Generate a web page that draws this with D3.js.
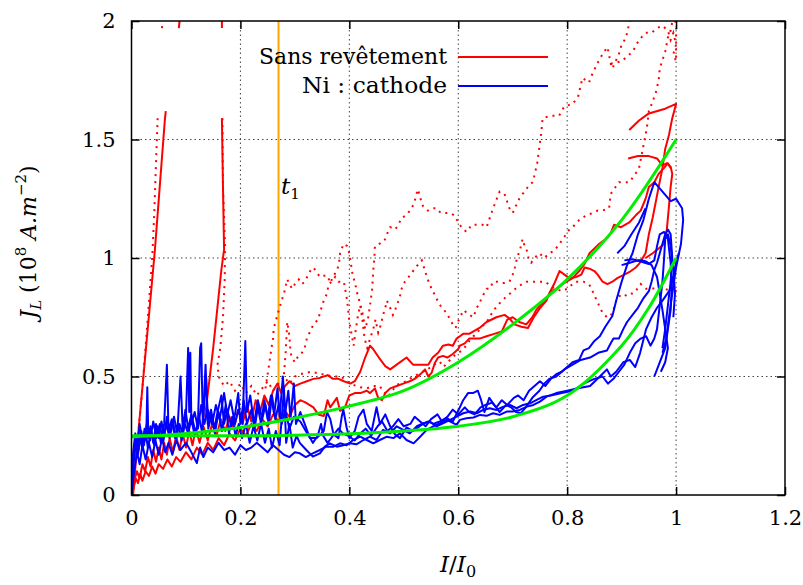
<!DOCTYPE html>
<html><head><meta charset="utf-8">
<script src="https://cdn.jsdelivr.net/npm/d3@7"></script>
<style>
body{margin:0;background:#fff;}
svg{display:block;}
</style></head>
<body>
<svg id="c" width="803" height="585"></svg>
<script>
// ---------- tick labels ----------
const xTicks = [0, 0.2, 0.4, 0.6, 0.8, 1, 1.2];
const yTicks = [0, 0.5, 1, 1.5, 2];
const xGrid = [0.2, 0.4, 0.6, 0.8, 1];
const yGrid = [0.5, 1, 1.5];
const t1 = 0.27;

// ---------- red solid series (Sans revêtement) ----------
const redA = [[0,0],[0.005,0.06],[0.01,0.1],[0.015,0.07],[0.02,0.13],[0.025,0.1],[0.03,0.16],[0.035,0.12],[0.04,0.19],[0.045,0.14],[0.05,0.2],[0.055,0.15],[0.06,0.22],[0.065,0.17],[0.07,0.24],[0.076,0.18],[0.082,0.25],[0.088,0.19],[0.094,0.26],[0.1,0.2],[0.106,0.27],[0.112,0.21],[0.118,0.28],[0.125,0.22],[0.132,0.29],[0.14,0.23],[0.148,0.3],[0.156,0.25],[0.164,0.32],[0.172,0.27],[0.18,0.33],[0.188,0.28],[0.196,0.36],[0.204,0.3],[0.212,0.38],[0.22,0.31],[0.228,0.4],[0.236,0.35],[0.244,0.42],[0.252,0.38],[0.26,0.44],[0.268,0.47],[0.275,0.43],[0.282,0.46],[0.29,0.48],[0.3,0.46],[0.31,0.47],[0.322,0.48],[0.334,0.49],[0.346,0.494],[0.36,0.506],[0.37,0.49],[0.38,0.49],[0.39,0.48],[0.402,0.47],[0.41,0.48],[0.42,0.52],[0.429,0.58],[0.438,0.63],[0.444,0.615],[0.456,0.574],[0.466,0.544],[0.475,0.53],[0.487,0.55],[0.505,0.58],[0.517,0.55],[0.53,0.55],[0.545,0.55],[0.553,0.58],[0.563,0.6],[0.572,0.63],[0.582,0.635],[0.59,0.63],[0.597,0.66],[0.603,0.67],[0.609,0.68],[0.62,0.68],[0.639,0.705],[0.652,0.73],[0.67,0.75],[0.685,0.76],[0.694,0.745],[0.703,0.72],[0.716,0.71],[0.728,0.705],[0.74,0.755],[0.749,0.785],[0.762,0.82],[0.767,0.85],[0.776,0.89],[0.786,0.945],[0.795,0.93],[0.804,0.915],[0.817,0.92],[0.826,0.93],[0.832,0.96],[0.841,0.955],[0.85,0.945],[0.856,0.93],[0.865,0.9],[0.874,0.89],[0.883,0.9],[0.892,0.915],[0.905,0.93],[0.917,0.945],[0.926,0.96],[0.932,0.975],[0.944,1.02],[0.95,1.1],[0.957,1.17],[0.963,1.24],[0.968,1.3],[0.975,1.38],[0.98,1.46],[0.987,1.52],[0.993,1.59],[1.0,1.65],[0.98,1.63],[0.95,1.61],[0.932,1.58],[0.914,1.54]];
const redB = [[0,0],[0.004,0.03],[0.008,0.07],[0.012,0.05],[0.016,0.09],[0.02,0.06],[0.026,0.1],[0.032,0.08],[0.038,0.12],[0.044,0.09],[0.05,0.13],[0.058,0.11],[0.066,0.15],[0.074,0.12],[0.082,0.16],[0.09,0.14],[0.1,0.18],[0.11,0.15],[0.12,0.2],[0.13,0.17],[0.14,0.22],[0.15,0.19],[0.16,0.24],[0.17,0.21],[0.18,0.26],[0.19,0.23],[0.2,0.28],[0.21,0.25],[0.22,0.3],[0.23,0.27],[0.24,0.32],[0.25,0.29],[0.26,0.34],[0.27,0.31],[0.28,0.36],[0.29,0.33],[0.3,0.38],[0.31,0.4],[0.32,0.39],[0.334,0.37],[0.343,0.34],[0.353,0.333],[0.36,0.4],[0.365,0.37],[0.371,0.39],[0.377,0.41],[0.383,0.355],[0.392,0.37],[0.4,0.42],[0.41,0.43],[0.42,0.43],[0.432,0.44],[0.438,0.43],[0.447,0.45],[0.453,0.41],[0.46,0.4],[0.466,0.43],[0.475,0.45],[0.487,0.46],[0.499,0.47],[0.511,0.48],[0.52,0.49],[0.533,0.515],[0.539,0.53],[0.545,0.5],[0.551,0.515],[0.557,0.557],[0.563,0.58],[0.572,0.587],[0.58,0.58],[0.59,0.595],[0.6,0.616],[0.603,0.63],[0.612,0.64],[0.62,0.66],[0.639,0.66],[0.652,0.67],[0.666,0.68],[0.68,0.69],[0.69,0.74],[0.7,0.75],[0.712,0.73],[0.725,0.72],[0.736,0.75],[0.743,0.78],[0.754,0.81],[0.762,0.83],[0.771,0.86],[0.78,0.87],[0.795,0.895],[0.81,0.915],[0.822,0.945],[0.832,0.975],[0.841,1.02],[0.85,1.04],[0.859,1.06],[0.871,1.08],[0.88,1.105],[0.886,1.14],[0.899,1.13],[0.914,1.15],[0.926,1.18],[0.935,1.2],[0.944,1.25],[0.95,1.3],[0.96,1.32],[0.968,1.355],[0.978,1.38],[0.985,1.4],[0.99,1.38]];
const redC = [[0.912,1.42],[0.93,1.43],[0.95,1.43],[0.965,1.42],[0.975,1.39],[0.983,1.4],[0.99,1.385],[0.993,1.355],[0.99,1.3],[0.987,1.22],[0.983,1.12],[0.978,1.06],[0.968,1.04],[0.957,1.02],[0.944,1.0]];
const redD = [[0.003,0],[0.01,0.2],[0.043,1.035],[0.0615,1.59],[0.063,1.62]];
const redDtop = [[0.087,1.97],[0.089,2.02]];
const redE = [[0.135,0.33],[0.15,0.62],[0.165,0.95],[0.17,1.035],[0.168,1.3],[0.166,1.59]];
const redEtop = [[0.166,1.97],[0.166,2.02]];

// ---------- red dotted series ----------
const dotA = [[0.003,0.02],[0.01,0.2],[0.02,0.45],[0.03,0.75],[0.038,1.0],[0.042,1.2],[0.045,1.4],[0.048,1.59]];
const dotAtop = [[0.056,1.97],[0.057,2.02]];
const dotB = [[0.167,1.59],[0.168,1.3],[0.172,1.04],[0.171,0.9],[0.168,0.75],[0.163,0.62],[0.158,0.55],[0.16,0.5],[0.17,0.46],[0.18,0.48],[0.19,0.44],[0.2,0.47],[0.21,0.43],[0.22,0.46],[0.23,0.42],[0.24,0.45],[0.25,0.48],[0.26,0.44],[0.27,0.47],[0.28,0.5],[0.29,0.47],[0.3,0.5],[0.31,0.51],[0.33,0.52],[0.35,0.51],[0.37,0.5],[0.385,0.5],[0.395,0.48],[0.407,0.465],[0.42,0.455],[0.432,0.45],[0.444,0.46],[0.456,0.46],[0.462,0.437],[0.471,0.415],[0.478,0.437],[0.487,0.465],[0.505,0.48],[0.517,0.5],[0.53,0.514],[0.542,0.528],[0.55,0.54],[0.56,0.556],[0.566,0.563],[0.573,0.54],[0.582,0.563],[0.591,0.585],[0.6,0.6],[0.609,0.613],[0.615,0.634],[0.622,0.655],[0.628,0.67],[0.64,0.7],[0.655,0.74],[0.665,0.78],[0.68,0.82],[0.695,0.85],[0.71,0.88],[0.725,0.9],[0.743,0.9],[0.76,0.9],[0.77,0.88],[0.79,0.86],[0.8,0.87],[0.815,0.9],[0.83,0.9],[0.84,0.89],[0.845,0.87],[0.85,0.84],[0.855,0.82],[0.86,0.79],[0.865,0.77],[0.873,0.75],[0.88,0.755],[0.886,0.79],[0.89,0.82],[0.895,0.84],[0.905,0.835],[0.91,0.85],[0.92,0.85],[0.925,0.855],[0.93,0.875],[0.935,0.89],[0.945,0.87],[0.955,0.87],[0.965,0.875],[0.975,0.875],[0.985,0.865],[0.99,0.88],[0.995,0.9],[1.0,0.86]];
const dotQ = [[0.246,0.45],[0.252,0.54],[0.257,0.62],[0.26,0.66],[0.261,0.7],[0.268,0.76],[0.277,0.83],[0.28,0.85],[0.286,0.91],[0.29,0.89],[0.295,0.87],[0.3,0.89],[0.307,0.91],[0.313,0.89],[0.318,0.9],[0.328,0.945],[0.334,0.96],[0.34,0.94],[0.346,0.92],[0.353,0.925],[0.36,0.925],[0.365,0.895],[0.371,0.925],[0.377,0.945],[0.381,0.975],[0.383,1.02],[0.386,1.04],[0.39,1.06],[0.396,1.05],[0.4,1.02],[0.403,0.975],[0.406,0.93],[0.411,0.89],[0.414,0.855],[0.42,0.805],[0.425,0.76],[0.429,0.7],[0.434,0.74],[0.438,0.8],[0.442,0.87],[0.444,0.95],[0.446,1.0],[0.447,1.05],[0.455,1.06],[0.464,1.07],[0.469,1.1],[0.475,1.13],[0.484,1.12],[0.49,1.14],[0.496,1.17],[0.505,1.18],[0.514,1.21],[0.519,1.23],[0.522,1.26],[0.526,1.29],[0.532,1.24],[0.535,1.22],[0.544,1.2],[0.553,1.21],[0.56,1.21],[0.568,1.19],[0.575,1.19],[0.584,1.19],[0.593,1.18],[0.6,1.15],[0.606,1.13],[0.615,1.11],[0.625,1.14],[0.636,1.14],[0.645,1.14],[0.652,1.13],[0.658,1.17],[0.664,1.21],[0.676,1.28],[0.685,1.27],[0.694,1.21],[0.7,1.19],[0.712,1.25],[0.731,1.31],[0.737,1.32],[0.745,1.4],[0.752,1.52],[0.755,1.59],[0.77,1.6],[0.785,1.6],[0.795,1.64],[0.81,1.65],[0.82,1.68],[0.828,1.76],[0.84,1.74],[0.845,1.77],[0.855,1.82],[0.865,1.86],[0.874,1.89],[0.88,1.82],[0.883,1.8],[0.895,1.86],[0.9,1.9],[0.908,1.93],[0.914,1.99],[0.918,2.02]];
const dotR = [[0.28,0.51],[0.283,0.6],[0.286,0.73],[0.29,0.67],[0.292,0.6],[0.295,0.58],[0.3,0.56],[0.307,0.59],[0.313,0.6],[0.318,0.62],[0.322,0.66],[0.332,0.71],[0.338,0.73],[0.343,0.74],[0.346,0.77],[0.353,0.82],[0.359,0.85],[0.362,0.89],[0.368,0.9],[0.374,0.92],[0.38,0.9],[0.39,0.9],[0.393,0.86],[0.396,0.82],[0.4,0.73],[0.404,0.68],[0.408,0.63],[0.412,0.7],[0.416,0.76],[0.42,0.8],[0.424,0.74],[0.428,0.66],[0.433,0.62],[0.438,0.66],[0.444,0.7],[0.448,0.74],[0.453,0.685],[0.458,0.72],[0.462,0.76],[0.466,0.79],[0.469,0.82],[0.475,0.79],[0.48,0.76],[0.484,0.78],[0.487,0.8],[0.492,0.83],[0.496,0.87],[0.502,0.9],[0.509,0.92],[0.517,0.945],[0.524,0.966],[0.533,0.99],[0.539,0.945],[0.544,0.91],[0.551,0.87],[0.558,0.84],[0.564,0.81],[0.57,0.79],[0.578,0.77],[0.584,0.745],[0.59,0.72],[0.595,0.705],[0.603,0.75],[0.61,0.78],[0.62,0.76],[0.628,0.75],[0.633,0.785],[0.639,0.81],[0.645,0.84],[0.652,0.87],[0.658,0.87],[0.664,0.9],[0.672,0.9],[0.68,0.895],[0.685,0.895],[0.694,0.9],[0.7,0.93],[0.704,0.96],[0.707,0.99],[0.711,1.02],[0.714,1.04],[0.718,1.08],[0.722,1.05],[0.725,1.04],[0.729,1.0],[0.734,0.98],[0.74,1.0],[0.749,1.02],[0.758,1.0],[0.767,1.02],[0.776,1.03],[0.786,1.06],[0.792,1.08],[0.798,1.1],[0.804,1.12],[0.81,1.13],[0.818,1.15],[0.822,1.16],[0.835,1.18],[0.847,1.19],[0.856,1.2],[0.865,1.2],[0.877,1.21],[0.88,1.27],[0.886,1.29],[0.895,1.32],[0.914,1.32],[0.924,1.35],[0.932,1.38],[0.938,1.45],[0.944,1.52],[0.947,1.56],[0.95,1.62],[0.957,1.66],[0.963,1.7],[0.968,1.75],[0.97,1.8],[0.98,1.87],[0.985,1.93],[0.99,1.96],[0.995,2.02]];
const dotS = [[0.88,1.82],[0.9,1.83],[0.91,1.85],[0.92,1.87],[0.932,1.92],[0.944,1.95],[0.955,1.95],[0.965,1.97],[0.975,1.98],[0.985,1.96],[0.99,1.92],[0.995,1.95],[1.0,1.9],[0.995,1.86],[1.0,1.83],[1.0,1.97],[0.998,2.02]];

// ---------- blue series (Ni : cathode) ----------
const blue1 = [[0,0],[0.004,0.14],[0.008,0.22],[0.012,0.17],[0.016,0.25],[0.02,0.19],[0.024,0.28],[0.027,0.23],[0.029,0.455],[0.031,0.24],[0.035,0.29],[0.04,0.22],[0.045,0.3],[0.05,0.24],[0.055,0.31],[0.06,0.25],[0.065,0.33],[0.07,0.26],[0.076,0.31],[0.082,0.24],[0.088,0.3],[0.094,0.26],[0.1,0.33],[0.104,0.62],[0.106,0.35],[0.108,0.6],[0.11,0.3],[0.116,0.35],[0.122,0.28],[0.128,0.38],[0.134,0.3],[0.14,0.36],[0.148,0.3],[0.155,0.38],[0.162,0.32],[0.17,0.43],[0.176,0.34],[0.182,0.4],[0.19,0.3],[0.196,0.36],[0.204,0.3],[0.209,0.65],[0.212,0.35],[0.218,0.42],[0.225,0.3],[0.232,0.4],[0.24,0.32],[0.246,0.38],[0.252,0.3],[0.258,0.42],[0.264,0.32],[0.27,0.38],[0.276,0.3],[0.282,0.36],[0.29,0.28],[0.298,0.33],[0.31,0.31],[0.32,0.27],[0.328,0.24],[0.34,0.24],[0.353,0.27],[0.359,0.35],[0.365,0.32],[0.371,0.255],[0.38,0.24],[0.386,0.33],[0.389,0.36],[0.395,0.285],[0.4,0.24],[0.41,0.27],[0.417,0.33],[0.426,0.36],[0.432,0.3],[0.441,0.27],[0.45,0.37],[0.456,0.3],[0.466,0.34],[0.475,0.29],[0.484,0.255],[0.493,0.24],[0.505,0.285],[0.517,0.27],[0.526,0.285],[0.535,0.3],[0.545,0.31],[0.554,0.3],[0.566,0.31],[0.578,0.325],[0.59,0.31],[0.603,0.37],[0.609,0.4],[0.618,0.43],[0.627,0.43],[0.636,0.44],[0.642,0.4],[0.648,0.35],[0.657,0.41],[0.666,0.38],[0.676,0.35],[0.688,0.38],[0.697,0.37],[0.706,0.35],[0.715,0.345],[0.724,0.37],[0.736,0.41],[0.749,0.44],[0.758,0.47],[0.767,0.49],[0.78,0.5],[0.795,0.53],[0.81,0.55],[0.825,0.57],[0.842,0.58],[0.857,0.6],[0.873,0.61],[0.88,0.64],[0.885,0.66],[0.895,0.66],[0.903,0.7],[0.91,0.73],[0.92,0.76],[0.93,0.79],[0.94,0.83],[0.95,0.86],[0.955,0.9],[0.96,0.95],[0.965,0.98],[0.97,1.02],[0.975,1.06],[0.98,1.1],[0.985,1.12],[0.99,1.1],[0.993,1.0],[0.99,0.9],[0.985,0.8],[0.98,0.7],[0.975,0.62]];
const blue2 = [[0,0],[0.005,0.1],[0.01,0.18],[0.015,0.13],[0.02,0.21],[0.026,0.15],[0.032,0.22],[0.038,0.16],[0.044,0.23],[0.05,0.17],[0.056,0.24],[0.062,0.18],[0.068,0.22],[0.075,0.17],[0.082,0.23],[0.09,0.19],[0.1,0.22],[0.11,0.18],[0.12,0.135],[0.126,0.2],[0.132,0.16],[0.14,0.2],[0.15,0.18],[0.16,0.22],[0.17,0.19],[0.18,0.2],[0.19,0.17],[0.2,0.21],[0.21,0.19],[0.22,0.2],[0.23,0.22],[0.24,0.2],[0.25,0.18],[0.26,0.21],[0.27,0.19],[0.28,0.17],[0.29,0.16],[0.3,0.18],[0.309,0.176],[0.32,0.16],[0.333,0.176],[0.346,0.19],[0.358,0.204],[0.371,0.204],[0.383,0.218],[0.395,0.21],[0.407,0.232],[0.42,0.246],[0.432,0.232],[0.444,0.218],[0.456,0.232],[0.469,0.246],[0.481,0.24],[0.493,0.26],[0.505,0.232],[0.518,0.218],[0.53,0.246],[0.542,0.275],[0.554,0.29],[0.567,0.303],[0.579,0.317],[0.591,0.303],[0.597,0.296],[0.603,0.317],[0.615,0.324],[0.628,0.327],[0.64,0.338],[0.652,0.334],[0.664,0.345],[0.676,0.338],[0.689,0.352],[0.7,0.352],[0.713,0.359],[0.726,0.373],[0.738,0.38],[0.75,0.394],[0.762,0.415],[0.78,0.43],[0.8,0.44],[0.82,0.45],[0.842,0.46],[0.86,0.5],[0.873,0.53],[0.88,0.5],[0.89,0.52],[0.903,0.56],[0.915,0.57],[0.925,0.54],[0.934,0.6],[0.945,0.7],[0.955,0.75],[0.965,0.79],[0.975,0.82],[0.99,0.87],[1.0,0.98],[1.005,1.02]];
const blue3 = [[0,0],[0.003,0.18],[0.007,0.26],[0.011,0.2],[0.015,0.3],[0.02,0.22],[0.025,0.28],[0.03,0.2],[0.036,0.27],[0.042,0.21],[0.048,0.29],[0.054,0.22],[0.06,0.3],[0.065,0.55],[0.068,0.27],[0.074,0.32],[0.08,0.24],[0.086,0.3],[0.092,0.23],[0.098,0.3],[0.104,0.26],[0.11,0.32],[0.116,0.25],[0.122,0.3],[0.126,0.62],[0.128,0.64],[0.131,0.3],[0.137,0.5],[0.141,0.28],[0.147,0.34],[0.153,0.26],[0.16,0.35],[0.166,0.27],[0.173,0.38],[0.179,0.26],[0.185,0.33],[0.191,0.25],[0.197,0.3],[0.203,0.24],[0.21,0.3],[0.217,0.22],[0.224,0.29],[0.231,0.23],[0.238,0.3],[0.245,0.22],[0.252,0.28],[0.258,0.2],[0.265,0.27],[0.272,0.21],[0.28,0.45],[0.284,0.22],[0.29,0.3],[0.296,0.2],[0.303,0.25],[0.309,0.22],[0.321,0.19],[0.333,0.162],[0.346,0.176],[0.355,0.204],[0.364,0.218],[0.377,0.204],[0.389,0.21],[0.401,0.218],[0.413,0.214],[0.426,0.232],[0.438,0.246],[0.45,0.232],[0.462,0.275],[0.475,0.26],[0.487,0.29],[0.499,0.275],[0.511,0.26],[0.524,0.29],[0.536,0.303],[0.548,0.31],[0.56,0.29],[0.573,0.303],[0.585,0.317],[0.597,0.331],[0.609,0.345],[0.622,0.352],[0.634,0.345],[0.646,0.359],[0.658,0.366],[0.67,0.359],[0.683,0.373],[0.695,0.38],[0.707,0.366],[0.719,0.38],[0.732,0.387],[0.744,0.401],[0.756,0.415],[0.77,0.42],[0.79,0.43],[0.81,0.44],[0.83,0.47],[0.85,0.49],[0.865,0.5],[0.875,0.47],[0.885,0.49],[0.895,0.52],[0.905,0.55],[0.915,0.6],[0.925,0.64],[0.935,0.66],[0.945,0.67],[0.953,0.63],[0.96,0.66],[0.965,0.7],[0.97,0.8],[0.975,0.9],[0.978,1.0],[0.98,1.08],[0.985,1.1],[0.99,1.05],[0.995,0.95],[0.998,0.85],[0.995,0.75]];
const blue4 = [[0,0],[0.004,0.16],[0.008,0.24],[0.013,0.19],[0.018,0.27],[0.023,0.21],[0.028,0.3],[0.034,0.23],[0.04,0.31],[0.046,0.24],[0.052,0.3],[0.058,0.22],[0.064,0.3],[0.07,0.24],[0.078,0.33],[0.084,0.26],[0.09,0.5],[0.094,0.28],[0.099,0.36],[0.104,0.28],[0.11,0.34],[0.118,0.26],[0.124,0.33],[0.13,0.26],[0.136,0.55],[0.14,0.3],[0.146,0.36],[0.152,0.28],[0.158,0.35],[0.165,0.42],[0.17,0.3],[0.176,0.36],[0.183,0.29],[0.19,0.34],[0.196,0.43],[0.2,0.3],[0.206,0.4],[0.212,0.3],[0.22,0.36],[0.226,0.28],[0.232,0.37],[0.238,0.3],[0.244,0.4],[0.25,0.32],[0.256,0.42],[0.262,0.34],[0.268,0.45],[0.272,0.33],[0.278,0.5],[0.282,0.34],[0.288,0.44],[0.292,0.32],[0.298,0.47],[0.302,0.3],[0.31,0.35],[0.318,0.3],[0.326,0.25],[0.333,0.22],[0.342,0.25],[0.348,0.3],[0.352,0.25],[0.36,0.22],[0.37,0.25],[0.38,0.28],[0.388,0.26],[0.398,0.25],[0.41,0.23],[0.42,0.26],[0.43,0.28],[0.44,0.25],[0.452,0.29],[0.46,0.31],[0.47,0.27],[0.48,0.29],[0.49,0.32],[0.5,0.29],[0.512,0.3],[0.52,0.33],[0.53,0.31],[0.54,0.29],[0.55,0.32],[0.562,0.34],[0.57,0.31],[0.58,0.33],[0.59,0.36],[0.6,0.34],[0.612,0.37],[0.62,0.35],[0.63,0.34],[0.641,0.37],[0.65,0.38],[0.662,0.39],[0.67,0.37],[0.68,0.4],[0.69,0.38],[0.702,0.41],[0.71,0.42],[0.72,0.4],[0.73,0.44],[0.74,0.46],[0.75,0.48],[0.76,0.46],[0.77,0.49],[0.78,0.51],[0.79,0.52],[0.8,0.54],[0.81,0.56],[0.822,0.57],[0.83,0.61],[0.84,0.62],[0.85,0.65],[0.86,0.67],[0.87,0.71],[0.883,0.755],[0.89,0.82],[0.9,0.9],[0.91,0.97],[0.92,1.02],[0.93,1.1],[0.94,1.16],[0.95,1.25],[0.96,1.32],[0.975,1.28],[0.99,1.24],[1.0,1.25],[1.011,1.21],[1.013,1.16],[1.009,1.06],[1.0,0.96],[0.993,0.85],[0.987,0.75],[0.982,0.66],[0.975,0.6]];
const blue5 = [[0.892,1.02],[0.905,1.05],[0.918,1.1],[0.932,1.15],[0.944,1.21]];
const blue6 = [[0.9,0.97],[0.915,0.98],[0.93,0.99],[0.938,0.99],[0.945,0.985],[0.955,0.97],[0.965,0.92],[0.97,0.85],[0.975,0.78],[0.98,0.7],[0.985,0.62],[0.98,0.56],[0.972,0.52]];
const blue7 = [[0.905,0.99],[0.92,0.995],[0.935,0.985],[0.95,0.975],[0.96,0.99],[0.965,1.05],[0.97,1.1],[0.978,1.11],[0.985,1.08],[0.99,0.98],[0.992,0.88],[0.99,0.78],[0.985,0.7],[0.98,0.62],[0.97,0.56],[0.96,0.5]];

// ---------- green fits (values read at regular abscissae) ----------
const greenUpper = [[0,0.245],[0.1,0.26],[0.2,0.285],[0.3,0.325],[0.4,0.375],[0.5,0.44],[0.6,0.56],[0.7,0.72],[0.8,0.91],[0.9,1.16],[1.0,1.5]];
const greenLower = [[0,0.25],[0.1,0.25],[0.2,0.25],[0.3,0.252],[0.4,0.258],[0.5,0.27],[0.6,0.29],[0.7,0.33],[0.8,0.42],[0.9,0.63],[0.95,0.79],[1.0,1.0]];

const redSolid = [redA, redB, redC, redD, redDtop, redE, redEtop];
const redDotted = [dotA, dotAtop, dotB, dotQ, dotR, dotS];
const blueSeries = [blue1, blue2, blue3, blue4, blue5, blue6, blue7];
const greenSeries = [greenUpper, greenLower];

// ---------- drawing ----------
const FONT = "'DejaVu Serif',serif";
const svg = d3.select("#c");
const X0 = 131.5, X1 = 785, Y0 = 495, Y1 = 21;
const x = d3.scaleLinear().domain([0, 1.2]).range([X0, X1]);
const y = d3.scaleLinear().domain([0, 2]).range([Y0, Y1]);

svg.append("defs").append("clipPath").attr("id","clip")
  .append("rect").attr("x",X0).attr("y",Y1).attr("width",X1-X0).attr("height",Y0-Y1);

// grid
const grid = svg.append("g").attr("stroke","#444").attr("stroke-width",1).attr("stroke-dasharray","1.5,3");
grid.selectAll(".gx").data(xGrid).join("line")
  .attr("x1",d=>x(d)).attr("x2",d=>x(d)).attr("y1",Y0).attr("y2",Y1);
grid.selectAll(".gy").data(yGrid).join("line")
  .attr("x1",X0).attr("x2",X1).attr("y1",d=>y(d)).attr("y2",d=>y(d));

const plot = svg.append("g").attr("clip-path","url(#clip)");
const line = d3.line().x(d=>x(d[0])).y(d=>y(d[1]));
const smooth = d3.line().x(d=>x(d[0])).y(d=>y(d[1])).curve(d3.curveCatmullRom);

// orange t1 line
plot.append("line").attr("x1",x(t1)).attr("x2",x(t1)).attr("y1",y(0)).attr("y2",y(2))
  .attr("stroke","#ffa500").attr("stroke-width",2);

plot.selectAll(".rd").data(redDotted).join("path").attr("d",line)
  .attr("fill","none").attr("stroke","#ff0000").attr("stroke-width",2).attr("stroke-dasharray","2,5");
plot.selectAll(".rs").data(redSolid).join("path").attr("d",line)
  .attr("fill","none").attr("stroke","#ff0000").attr("stroke-width",2).attr("stroke-linejoin","round");
plot.selectAll(".bl").data(blueSeries).join("path").attr("d",line)
  .attr("fill","none").attr("stroke","#0000ff").attr("stroke-width",2).attr("stroke-linejoin","round");
plot.selectAll(".gr").data(greenSeries).join("path").attr("d",smooth)
  .attr("fill","none").attr("stroke","#00ee00").attr("stroke-width",3);

// axes (inward ticks, mirrored)
const fs = 21;
const axB = svg.append("g").attr("transform",`translate(0,${Y0})`)
  .call(d3.axisBottom(x).tickValues(xTicks).tickSize(-8).tickPadding(15).tickFormat(d3.format("~g")));
const axL = svg.append("g").attr("transform",`translate(${X0},0)`)
  .call(d3.axisLeft(y).tickValues(yTicks).tickSize(-8).tickPadding(16).tickFormat(d3.format("~g")));
const axT = svg.append("g").attr("transform",`translate(0,${Y1})`)
  .call(d3.axisTop(x).tickValues(xTicks).tickSize(-8).tickFormat(""));
const axR = svg.append("g").attr("transform",`translate(${X1},0)`)
  .call(d3.axisRight(y).tickValues(yTicks).tickSize(-8).tickFormat(""));
[axB,axL,axT,axR].forEach(a=>{
  a.attr("font-family",null).attr("font-size",null);
  a.select(".domain").remove();
  a.selectAll(".tick line").attr("stroke","#000").attr("stroke-width",1.5);
  a.selectAll("text").attr("font-size",fs).attr("fill","#000");
});
// border
svg.append("rect").attr("x",X0).attr("y",Y1).attr("width",X1-X0).attr("height",Y0-Y1)
  .attr("fill","none").attr("stroke","#000").attr("stroke-width",1.5);

// legend
const lg = svg.append("g");
lg.append("text").attr("x",447).attr("y",64).attr("text-anchor","end").attr("font-size",22)
  .attr("textLength",188).attr("lengthAdjust","spacingAndGlyphs").text("Sans revêtement");
lg.append("line").attr("x1",458).attr("x2",548).attr("y1",57).attr("y2",57).attr("stroke","#ff0000").attr("stroke-width",2);
lg.append("text").attr("x",447).attr("y",93).attr("text-anchor","end").attr("font-size",22)
  .attr("textLength",145).attr("lengthAdjust","spacingAndGlyphs").text("Ni : cathode");
lg.append("line").attr("x1",458).attr("x2",548).attr("y1",86).attr("y2",86).attr("stroke","#0000ff").attr("stroke-width",2);

// t1 label
const tl = svg.append("text").attr("x",281).attr("y",194).attr("font-size",23);
tl.append("tspan").attr("font-style","italic").text("t");
tl.append("tspan").attr("font-size",15).attr("dy",5).text("1");

// x label
const xl = svg.append("text").attr("x",458).attr("y",572).attr("text-anchor","middle").attr("font-size",23);
xl.append("tspan").attr("font-style","italic").text("I");
xl.append("tspan").text("/");
xl.append("tspan").attr("font-style","italic").text("I");
xl.append("tspan").attr("font-size",16).attr("dy",5).text("0");

// y label
const yl = svg.append("text").attr("transform","translate(36,242) rotate(-90)").attr("text-anchor","middle").attr("font-size",22);
yl.append("tspan").attr("font-style","italic").text("J");
yl.append("tspan").attr("font-style","italic").attr("font-size",15).attr("dy",5).text("L");
yl.append("tspan").attr("dy",-5).text(" (10");
yl.append("tspan").attr("font-size",15).attr("dy",-10).text("8");
yl.append("tspan").attr("dy",10).text(" ");
yl.append("tspan").attr("font-style","italic").text("A.m");
yl.append("tspan").attr("font-size",15).attr("dy",-10).text("−2");
yl.append("tspan").attr("dy",10).text(")");

svg.selectAll("text").style("font-family", FONT);
</script>
</body></html>
